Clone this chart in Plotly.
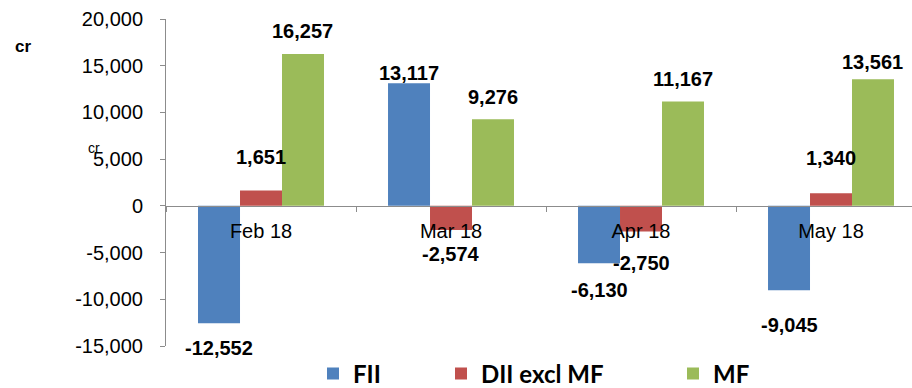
import plotly.graph_objects as go

# Monthly net flows (Rs crore)
months = ["Feb 18", "Mar 18", "Apr 18", "May 18"]
fii = [-12552, 13117, -6130, -9045]
dii_excl_mf = [1651, -2574, -2750, 1340]
mf = [16257, 9276, 11167, 13561]

y_ticks = [-15000, -10000, -5000, 0, 5000, 10000, 15000, 20000]
y_tick_text = [f"{v:,}" for v in y_ticks]

series = [
    ("FII", fii, "#4F81BD"),
    ("DII excl MF", dii_excl_mf, "#C0504D"),
    ("MF", mf, "#9BBB59"),
]

# vertical nudges (px) of the value labels away from the bar ends
label_nudge = {
    "FII": [-25, 10, -27, -35],
    "DII excl MF": [33, -24, -31, 35],
    "MF": [23, 22, 23, 17],
}

BAR_GAP = 0.337
FONT = "Liberation Sans, Arial, sans-serif"
W, H = 912, 388
M_L, M_R, M_T, M_B = 166, 0, 19, 42
plot_w = W - M_L - M_R
plot_h = H - M_T - M_B
cat_px = 190.0

legend_names = ["legend", "legend2", "legend3"]
legend_left_px = [313, 441, 673]

fig = go.Figure()
for k, (name, vals, color) in enumerate(series):
    fig.add_trace(go.Bar(
        name=name,
        x=months,
        y=vals,
        marker=dict(color=color, line=dict(width=0)),
        legend=legend_names[k],
    ))

# value labels centred over each bar
bar_w = (1 - BAR_GAP) / 3
for k, (name, vals, color) in enumerate(series):
    for i, v in enumerate(vals):
        fig.add_annotation(
            x=i + (k - 1) * bar_w, y=v, xref="x", yref="y",
            text=f"<b>{v:,}</b>", showarrow=False,
            yanchor="middle", xanchor="center",
            yshift=label_nudge[name][i],
            font=dict(family=FONT, size=20, color="black"),
        )

# unit labels
fig.add_annotation(
    x=(23 - M_L) / plot_w, y=(H - M_B - 47) / plot_h, xref="paper", yref="paper",
    text="<b>cr</b>", showarrow=False, xanchor="center", yanchor="middle",
    font=dict(family=FONT, size=17, color="black"),
)
fig.add_annotation(
    x=(94 - M_L) / plot_w, y=(H - M_B - 148) / plot_h, xref="paper", yref="paper",
    text="cr", showarrow=False, xanchor="center", yanchor="middle",
    font=dict(family=FONT, size=14, color="black"),
)

legend_font = dict(family="Lato, Carlito, sans-serif", size=24, color="black", weight="bold")
legend_y = (H - M_B - 374) / plot_h
layout_legends = {}
for name, left in zip(legend_names, legend_left_px):
    layout_legends[name] = dict(
        x=(left - M_L) / plot_w, y=legend_y, xanchor="left", yanchor="middle",
        orientation="h", font=legend_font, bgcolor="rgba(0,0,0,0)",
        borderwidth=0,
    )

zero_frac = -y_ticks[0] / (y_ticks[-1] - y_ticks[0])

fig.update_layout(
    width=W, height=H,
    margin=dict(l=M_L, r=M_R, t=M_T, b=M_B, autoexpand=False),
    paper_bgcolor="white", plot_bgcolor="white",
    barmode="group", bargap=BAR_GAP, bargroupgap=0,
    showlegend=True,
    font=dict(family=FONT, color="black"),
    xaxis=dict(
        type="category",
        range=[-0.5, -0.5 + plot_w / cat_px],
        anchor="free", position=zero_frac,
        showline=True, linecolor="#8C8C8C", linewidth=1,
        ticks="outside", ticklen=5, tickcolor="#8C8C8C", tickson="boundaries",
        ticklabelstandoff=7,
        tickfont=dict(family=FONT, size=20, color="black"),
        showgrid=False, zeroline=False,
    ),
    yaxis=dict(
        range=[y_ticks[0], y_ticks[-1]],
        tickvals=y_ticks, ticktext=y_tick_text,
        showline=True, linecolor="#8C8C8C", linewidth=1,
        ticks="outside", ticklen=5, tickcolor="#8C8C8C",
        ticklabelstandoff=13,
        tickfont=dict(family=FONT, size=20, color="black"),
        showgrid=False, zeroline=False,
    ),
    **layout_legends,
)

fig.write_html("out.html")
